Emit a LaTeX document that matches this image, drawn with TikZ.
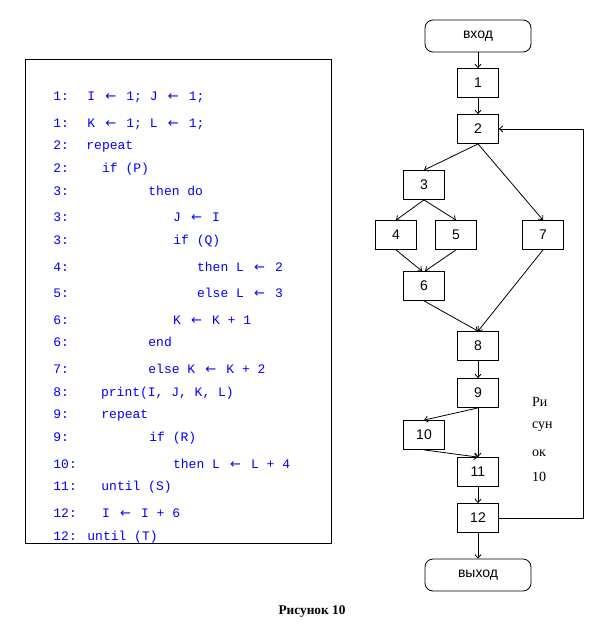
\documentclass[tikz,border=0pt]{standalone}
\usepackage{fontspec}
\setmainfont{Liberation Serif}
\setmonofont{Liberation Mono}
\newfontfamily\flowfont{Liberation Sans}
\newfontfamily\arrowfont{DejaVu Sans}
\usetikzlibrary{arrows.meta,positioning}
\definecolor{codec}{HTML}{0000FF}
\newcommand{\la}{\makebox[1.2em]{\arrowfont ←}}

\begin{document}
\begin{tikzpicture}[x=0.75pt, y=-0.75pt, line width=0.6pt, >={Straight Barb[length=2.5pt,width=4.5pt]}]
\tikzset{codeln/.style={anchor=west, text=codec, inner sep=0pt, text height=1.6ex, text depth=.4ex, font=\ttfamily\fontsize{9.75}{11}\selectfont},
  blk/.style={draw, inner sep=0pt, minimum width=30.75pt, minimum height=21.75pt, font=\flowfont\fontsize{10.5}{12}\selectfont},
  term/.style={blk, rounded corners=6pt, minimum width=79.5pt, minimum height=24pt},
  figtxt/.style={anchor=west, inner sep=0pt, font=\fontsize{10.5}{12}\selectfont}}
\fill[white] (0,0) rectangle (594,635);
\useasboundingbox (0,0) rectangle (594,635);
% program text
\node[draw, inner sep=0pt, minimum width=229.5pt, minimum height=363pt] (codebox) at (178,301) {};
\foreach \yy/\nm/\xx/\txt [count=\i] in {97/1:/87/{I \la{} 1; J \la{} 1;}, 124/1:/87/{K \la{} 1; L \la{} 1;}, 146/2:/86/{repeat}, 169/2:/101.7/{if (P)}, 192/3:/148/{then do}, 218/3:/172.7/{J \la{} I}, 241/3:/173/{if (Q)}, 268/4:/196.7/{then L \la{} 2}, 294/5:/196.7/{else L \la{} 3}, 321/6:/172.7/{K \la{} K + 1}, 343/6:/148/{end}, 370/7:/148/{else K \la{} K + 2}, 393/8:/100.7/{print(I, J, K, L)}, 415/9:/101/{repeat}, 438/9:/149/{if (R)}, 465/10:/172.7/{then L \la{} L + 4}, 487/11:/101/{until (S)}, 514/12:/101.7/{I \la{} I + 6}, 537/12:/87/{until (T)}}{
  \node[codeln] (num\i) at (53,\yy) {\nm};
  \node[codeln] (code\i) at (\xx,\yy) {\txt};
}
% flow graph
\node[term] (entry) at (478,36) {вход};
\node[blk] (b1) at (478,83) {1};
\node[blk] (b2) at (478,129) {2};
\node[blk] (b3) at (424,185) {3};
\node[blk] (b4) at (396,235) {4};
\node[blk] (b5) at (456,235) {5};
\node[blk] (b7) at (543,235) {7};
\node[blk] (b6) at (424,286) {6};
\node[blk] (b8) at (478,346) {8};
\node[blk] (b9) at (478,393) {9};
\node[blk] (b10) at (424,435) {10};
\node[blk] (b11) at (478,472) {11};
\node[blk] (b12) at (478,518) {12};
\node[term] (exit) at (478,575) {выход};
\foreach \a/\b in {entry/b1,b1/b2,b2/b3,b2/b7,b3/b4,b3/b5,b6/b8,b7/b8,b8/b9,b9/b10,b9/b11,b10/b11,b11/b12,b12/exit}{\draw[->] (\a.south)--(\b.north);}
\draw[->] (b4.south)--([xshift=-1.5pt]b6.north);
\draw[->] (b5.south)--([xshift=0.75pt]b6.north);
\draw[->] (b12.east) -- ++(84.7,0) |- (b2.east);
\foreach \yy/\t [count=\i] in {401.7/Ри,426.7/сун,453.3/ок,476.7/10}{\node[figtxt] (fig\i) at (531.7,\yy) {\t};}
\node[font=\bfseries\fontsize{10}{12}\selectfont] (caption) at (312,611) {Рисунок 10};
\end{tikzpicture}
\end{document}
